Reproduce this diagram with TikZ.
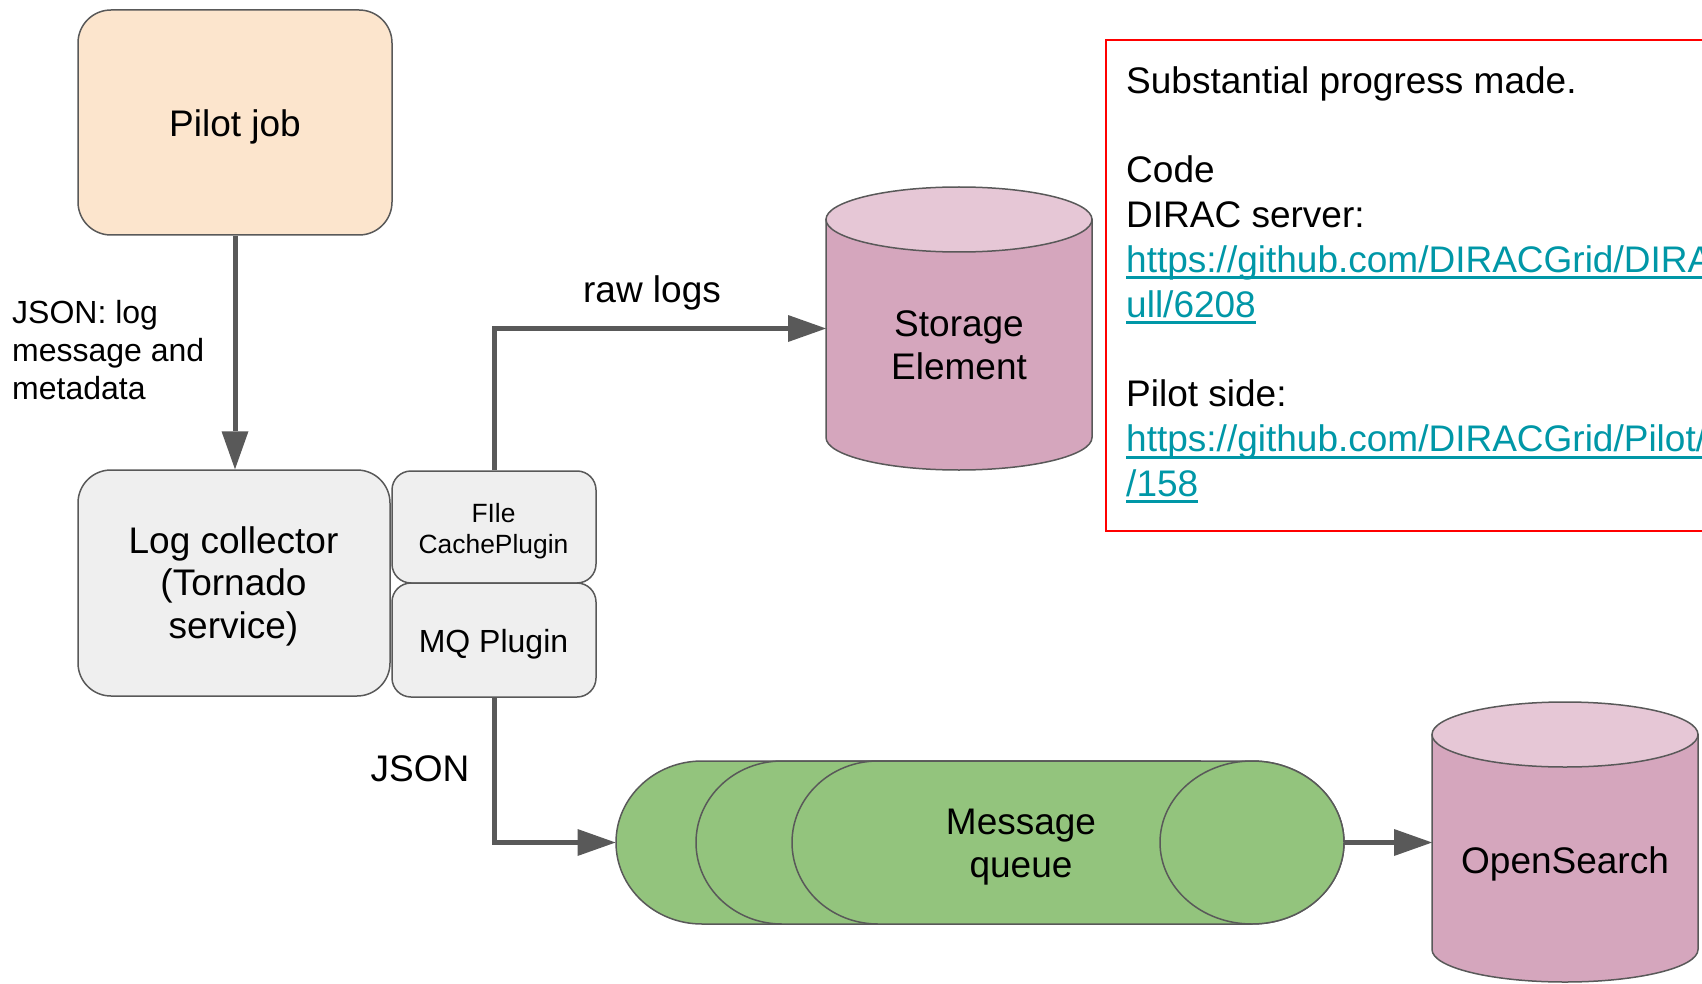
\documentclass[tikz,border=0pt]{standalone}
\usepackage{fontspec}
\setmainfont{Liberation Sans}
\usetikzlibrary{arrows.meta}
\definecolor{edgec}{HTML}{595959}
\definecolor{pilotfill}{HTML}{FCE5CD}
\definecolor{grayfill}{HTML}{EFEFEF}
\definecolor{cylbody}{HTML}{D5A6BD}
\definecolor{cyltop}{HTML}{E6C7D6}
\definecolor{qgreen}{HTML}{93C47D}
\definecolor{linkc}{HTML}{0097A7}
\definecolor{redbox}{HTML}{FF0000}
\newcommand\mylink[1]{\setbox0=\hbox{#1}\rlap{\raisebox{-7pt}{\rule{\wd0}{3pt}}}\box0}
\tikzset{
  boxshape/.style={draw=edgec, line width=1.5pt, rectangle, inner sep=0pt},
  shapeline/.style={draw=edgec, line width=1.5pt},
  anchorbox/.style={inner sep=0pt, outer sep=0pt},
  arr/.style={draw=edgec, line width=5pt, -{Triangle[length=38pt,width=27pt,line width=0pt]}},
  txtbig/.style={font=\fontsize{37}{42.5}\selectfont, align=center, inner sep=0pt},
  txtmid/.style={font=\fontsize{32}{38}\selectfont, inner sep=0pt},
  txtsmall/.style={font=\fontsize{26.4}{31}\selectfont, align=center, inner sep=0pt}
}
\begin{document}
\begin{tikzpicture}[x=1pt,y=-1pt]
\useasboundingbox (0,0) rectangle (1702,984);
\clip (0,0) rectangle (1702,984);
\fill[white] (0,0) rectangle (1702,984);

% Pilot job
\node[boxshape, fill=pilotfill, rounded corners=33pt, minimum width=314pt, minimum height=225pt] (pilot) at (235,122.5) {};
\node[txtbig, anchor=base] (pilott) at (235,137) {Pilot job};

% Log collector
\node[boxshape, fill=grayfill, rounded corners=33pt, minimum width=312pt, minimum height=226pt] (logc) at (234,583) {};
\node[txtbig] (logct) at (233.5,586.2) {Log collector\\(Tornado\\service)};

% Plugins
\node[boxshape, fill=grayfill, rounded corners=19pt, minimum width=204pt, minimum height=112pt] (fc) at (494,527) {};
\node[txtsmall] (fct) at (493.5,530.8) {FIle\\CachePlugin};
\node[boxshape, fill=grayfill, rounded corners=19pt, minimum width=204pt, minimum height=114pt] (mp) at (494,640) {};
\node[txtmid, anchor=base] (mpt) at (493.5,652) {MQ Plugin};

% Storage Element cylinder
\filldraw[shapeline, fill=cylbody] (826,219.5) -- (826,437.5) arc[start angle=180, end angle=0, x radius=133, y radius=32.5] -- (1092,219.5) -- cycle;
\filldraw[shapeline, fill=cyltop] (959,219.5) ellipse[x radius=133, y radius=32.5];
\node[anchorbox, minimum width=266pt, minimum height=283pt] (se) at (959,328.5) {};
\node[txtbig, font=\fontsize{37}{43}\selectfont] (set) at (959,344.8) {Storage\\Element};

% OpenSearch cylinder
\filldraw[shapeline, fill=cylbody] (1432,734.5) -- (1432,949.5) arc[start angle=180, end angle=0, x radius=133, y radius=32.5] -- (1698,734.5) -- cycle;
\filldraw[shapeline, fill=cyltop] (1565,734.5) ellipse[x radius=133, y radius=32.5];
\node[anchorbox, minimum width=266pt, minimum height=280pt] (os) at (1565,842) {};
\node[txtbig, anchor=base] (ost) at (1565,873) {OpenSearch};

% Message queue
\filldraw[shapeline, fill=qgreen] (702,761) arc[start angle=270, end angle=90, x radius=86, y radius=81.5] -- (1200,924) -- (1200,761) -- cycle;
\filldraw[shapeline, fill=qgreen] (782,761) arc[start angle=270, end angle=90, x radius=86, y radius=81.5] -- (1200,924) -- (1200,761) -- cycle;
\filldraw[shapeline, fill=qgreen] (878,761) arc[start angle=270, end angle=90, x radius=86, y radius=81.5] -- (1252,924) arc[start angle=90, end angle=-90, x radius=92, y radius=81.5] -- cycle;
\filldraw[shapeline, fill=qgreen] (1252,842.5) ellipse[x radius=92, y radius=81.5];
\node[anchorbox, minimum width=728.5pt, minimum height=163pt] (mq) at (979.75,842.5) {};
\node[txtbig, font=\fontsize{37}{43}\selectfont] (mqt) at (1021,847.2) {Message\\queue};

% Connectors
\draw[arr] (pilot.south) -- (pilot.south |- logc.north);
\draw[arr] (fc.north) |- (se.west);
\draw[arr] (mp.south) |- (mq.west);
\draw[arr] (mq.east) -- (mq.east -| os.west);

% Connector labels
\node[txtmid, align=left, anchor=north west] (jsonmeta) at (12,300.5) {JSON: log\\message and\\metadata};
\node[txtbig, anchor=base] (rawlbl) at (652,302) {raw logs};
\node[txtbig, anchor=base] (jsonlbl) at (420,781) {JSON};

% Notes box
\draw[redbox, line width=2pt] (1106,40) rectangle (1760,531);
\node[inner sep=0pt, anchor=north west, align=left, font=\fontsize{37}{44.8}\selectfont] (notes) at (1126,66.1) {Substantial progress made.\\[44.8pt]
Code\\
DIRAC server:\\
\textcolor{linkc}{\mylink{https://github.com/DIRACGrid/DIRAC/p}}\\
\textcolor{linkc}{\mylink{ull/6208}}\\[44.8pt]
Pilot side:\\
\textcolor{linkc}{\mylink{https://github.com/DIRACGrid/Pilot/pull}}\\
\textcolor{linkc}{\mylink{/158}}};
\end{tikzpicture}
\end{document}
